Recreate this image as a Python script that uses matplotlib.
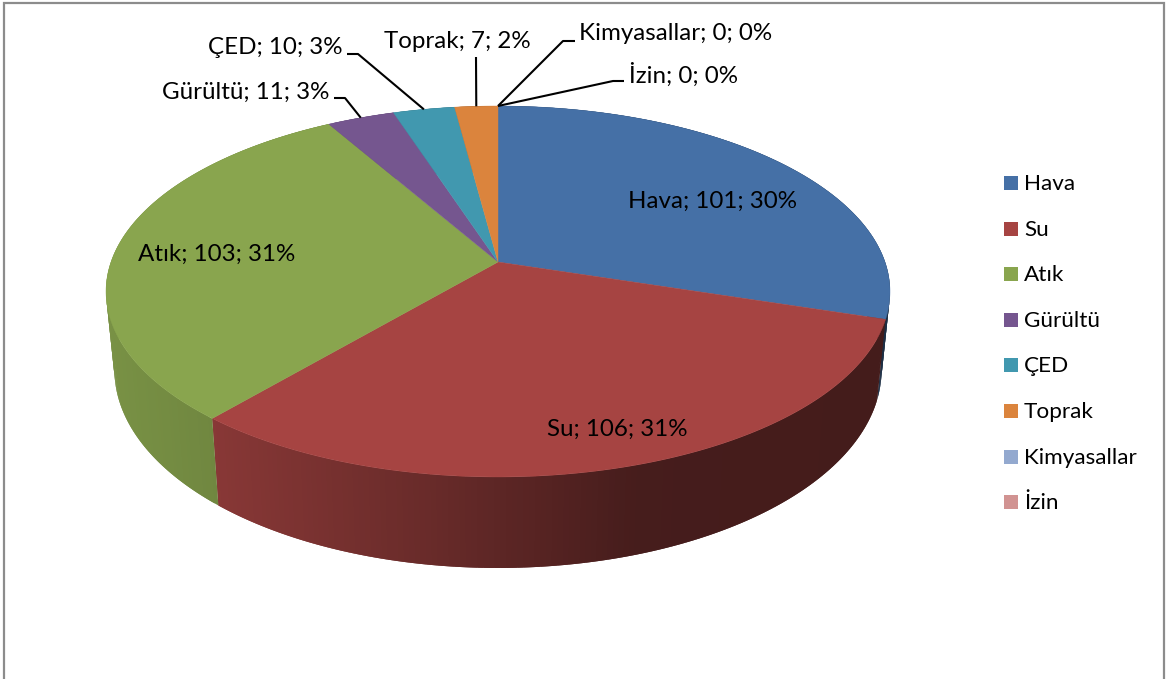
import numpy as np
import matplotlib
matplotlib.use("Agg")
import matplotlib.pyplot as plt
from matplotlib.patches import Polygon, Rectangle

# --- Datos ---
categorias = ["Hava", "Su", "Atık", "Gürültü", "ÇED", "Toprak", "Kimyasallar", "İzin"]
valores = [101, 106, 103, 11, 10, 7, 0, 0]
porcentajes = [30, 31, 31, 3, 3, 2, 0, 0]
colores = ["#4570A6", "#A64442", "#89A54E", "#75568F", "#4198AF", "#DB843D", "#93A9CF", "#D19392"]

# --- Geometría del disco (pixeles de la imagen) ---
CX, CY = 498, 262
RADIO_X, RADIO_Y, PERSP = 387, 180.8, 0.159
ESCALA_BASE = 0.9785
Y_FRENTE, ALTO_FRENTE, PEND_ALTO = 477, 91, 0.068

plt.rcParams['font.family'] = ['Lato', 'DejaVu Sans']
TAM_ETIQ = 17.4
TAM_LEY = 16.2


def borde(frac):
    # punto del borde superior para una fraccion acumulada (sentido horario desde arriba)
    a = 2 * np.pi * np.asarray(frac)
    w = 1 + PERSP * np.cos(a)
    return CX + RADIO_X * np.sin(a) / w, CY - RADIO_Y * np.cos(a) / w


def base(x, y):
    # borde inferior: un poco mas estrecho y con menos altura hacia el fondo
    return CX + (x - CX) * ESCALA_BASE, y + ALTO_FRENTE - PEND_ALTO * (Y_FRENTE - y)


def sombra(x):
    return np.interp(x, [106, 212, 440, 640, 890], [0.88, 0.82, 0.62, 0.42, 0.41])


fig = plt.figure(figsize=(11.67, 6.79), dpi=100)
ax = fig.add_axes([0, 0, 1, 1])
ax.set_xlim(0, 1167)
ax.set_ylim(679, 0)
ax.axis("off")

# Marco del grafico (sin borde inferior)
ax.plot([3.5, 3.5, 1163.5, 1163.5], [679, 3, 3, 679], color="#8C8C8C", lw=1.6, solid_joinstyle="miter")

# Titulo cortado: solo asoma el trazo inferior
ax.text(550, -4, "g", fontsize=16, fontweight="bold", color="black", ha="center", va="baseline", clip_on=False)

total = sum(valores)
acum = np.concatenate([[0], np.cumsum(valores)]) / total

# Pared lateral, por bandas que se solapan para que no queden costuras
for i, color in enumerate(colores):
    if valores[i] == 0:
        continue
    rgb = np.array(matplotlib.colors.to_rgb(color))
    fr = np.linspace(acum[i], acum[i + 1], max(int((acum[i + 1] - acum[i]) * 500), 3))
    xs, ys = borde(fr)
    xb, yb = base(xs, ys)
    for j in range(len(fr) - 1):
        k = min(j + 2, len(fr) - 1)
        c = rgb * sombra((xs[j] + xs[j + 1]) / 2)
        ax.add_patch(Polygon([(xs[j], ys[j]), (xs[k], ys[k]), (xb[k], yb[k]), (xb[j], yb[j])],
                             facecolor=c, edgecolor="none"))

# Cara superior
for i, color in enumerate(colores):
    if valores[i] == 0:
        continue
    fr = np.linspace(acum[i], acum[i + 1], 200)
    xs, ys = borde(fr)
    pts = [(CX, CY)] + list(zip(xs, ys))
    ax.add_patch(Polygon(pts, facecolor=color, edgecolor=color, lw=0.3))

# Etiquetas
etiquetas = [f"{c}; {v}; {p}%" for c, v, p in zip(categorias, valores, porcentajes)]
pos_etiquetas = [(712, 201, "center"), (617, 429, "center"), (217, 254, "center"), (329, 92, "right"),
                 (342, 48, "right"), (457, 41, "center"), (579, 33.5, "left"), (629, 75, "left")]
for txt, (x, y, ha) in zip(etiquetas, pos_etiquetas):
    ax.text(x, y, txt, fontsize=TAM_ETIQ, color="black", ha=ha, va="center")

# Lineas guia: codo de cada etiqueta hasta el punto medio de su porcion en el borde
guias = {3: [(334, 98), (345, 98)], 4: [(347, 54), (358, 54)], 5: [(476, 57)],
         6: [(575, 41), (563, 41)], 7: [(624, 81), (613, 81)]}
for i, codo in guias.items():
    xm, ym = borde((acum[i] + acum[i + 1]) / 2)
    ax.plot([p[0] for p in codo] + [xm], [p[1] for p in codo] + [ym], color="black", lw=1.5, solid_capstyle="butt")

# Leyenda
for i, (nombre, color) in enumerate(zip(categorias, colores)):
    y = 176 + i * 45.6
    ax.add_patch(Rectangle((1004, y), 14, 14, facecolor=color, edgecolor="none"))
    ax.text(1024, y + 8, nombre, fontsize=TAM_LEY, color="black", ha="left", va="center")

fig.savefig("out.png", dpi=100)
